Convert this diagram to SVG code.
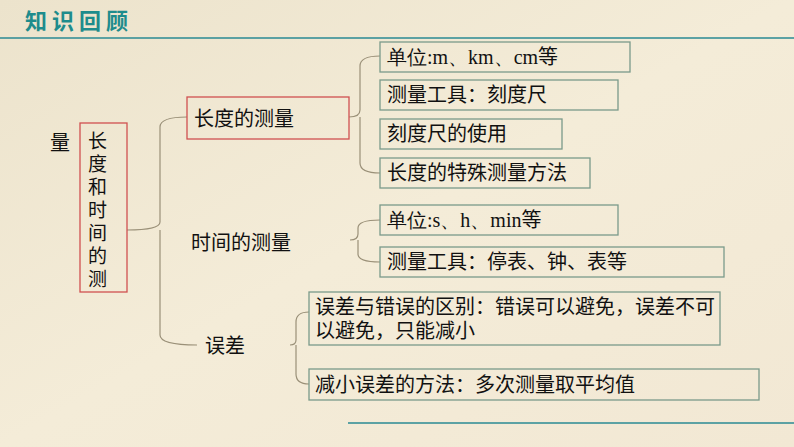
<svg xmlns="http://www.w3.org/2000/svg" width="794" height="447" viewBox="0 0 794 447">
<defs>
<linearGradient id="bg" x1="0" y1="0" x2="1" y2="1"><stop offset="0" stop-color="#ece3cc"/><stop offset="0.5" stop-color="#f4ecd8"/><stop offset="1" stop-color="#f2e8d4"/></linearGradient>
</defs>
<style>
text{font-family:"Noto Sans CJK SC","Liberation Sans",sans-serif;font-size:20px;fill:#111}
.v{font-size:19px}
.g{fill:none;stroke:#7a9a8a;stroke-width:1.3}
.r{fill:none;stroke:#d05050;stroke-width:1.3}
.b{fill:none;stroke:#9a9078;stroke-width:1.2}
</style>
<rect width="794" height="447" fill="url(#bg)"/>
<text x="25" y="29" style="font-size:22px;font-weight:bold;fill:#1e8c8c;letter-spacing:5px">知识回顾</text>
<line x1="0" y1="38" x2="794" y2="38" stroke="#2a8a93" stroke-width="1.5"/>
<line x1="348" y1="423" x2="794" y2="423" stroke="#2a8a93" stroke-width="1.5"/>
<g id="connectors">
<path class="b" d="M187,117 Q160,117 160,127 L160,222 Q160,230 127,230 M160,230 L160,335 Q160,345 197,345"/>
<path class="b" d="M380,56 Q360,56 360,66 L360,110 Q360,117 349,117 M360,117 L360,163 Q360,173 380,173"/>
<path class="b" d="M380,220 Q358,220 358,228 L358,234 Q358,240 350,240 M358,240 L358,254 Q358,262 380,262"/>
<path class="b" d="M309,312 Q296,312 296,322 L296,340 Q296,345 290,345 M296,345 L296,374 Q296,384 309,384"/>
</g>
<g id="n0"><text x="50" y="150">量</text></g>
<g id="n1"><rect class="r" x="80" y="123" width="47" height="169"/>
<text class="v" x="88" y="148">长</text><text class="v" x="88" y="171">度</text><text class="v" x="88" y="194">和</text><text class="v" x="88" y="217">时</text><text class="v" x="88" y="240">间</text><text class="v" x="88" y="263">的</text><text class="v" x="88" y="286">测</text></g>
<g id="n2"><rect class="r" x="187" y="97" width="162" height="42"/><text x="194" y="126">长度的测量</text></g>
<g id="n3"><text x="191" y="250">时间的测量</text></g>
<g id="n4"><text x="205" y="353">误差</text></g>
<g id="n5"><rect class="g" x="380" y="42" width="250" height="30"/><text x="387" y="64"><tspan style="font-family:'Liberation Serif',serif">单位:m、km、cm</tspan>等</text></g>
<g id="n6"><rect class="g" x="380" y="80" width="238" height="30"/><text x="387" y="102">测量工具：刻度尺</text></g>
<g id="n7"><rect class="g" x="380" y="119" width="182" height="30"/><text x="387" y="141">刻度尺的使用</text></g>
<g id="n8"><rect class="g" x="380" y="158" width="210" height="30"/><text x="387" y="180">长度的特殊测量方法</text></g>
<g id="n9"><rect class="g" x="380" y="205" width="238" height="30"/><text x="387" y="227"><tspan style="font-family:'Liberation Serif',serif">单位:s、h、min</tspan>等</text></g>
<g id="n10"><rect class="g" x="380" y="247" width="344" height="30"/><text x="387" y="269">测量工具：停表、钟、表等</text></g>
<g id="n11"><rect class="g" x="309" y="292" width="411" height="53"/><text x="315" y="314">误差与错误的区别：错误可以避免，误差不可</text><text x="315" y="338">以避免，只能减小</text></g>
<g id="n12"><rect class="g" x="309" y="369" width="450" height="31"/><text x="315" y="392">减小误差的方法：多次测量取平均值</text></g>
</svg>
